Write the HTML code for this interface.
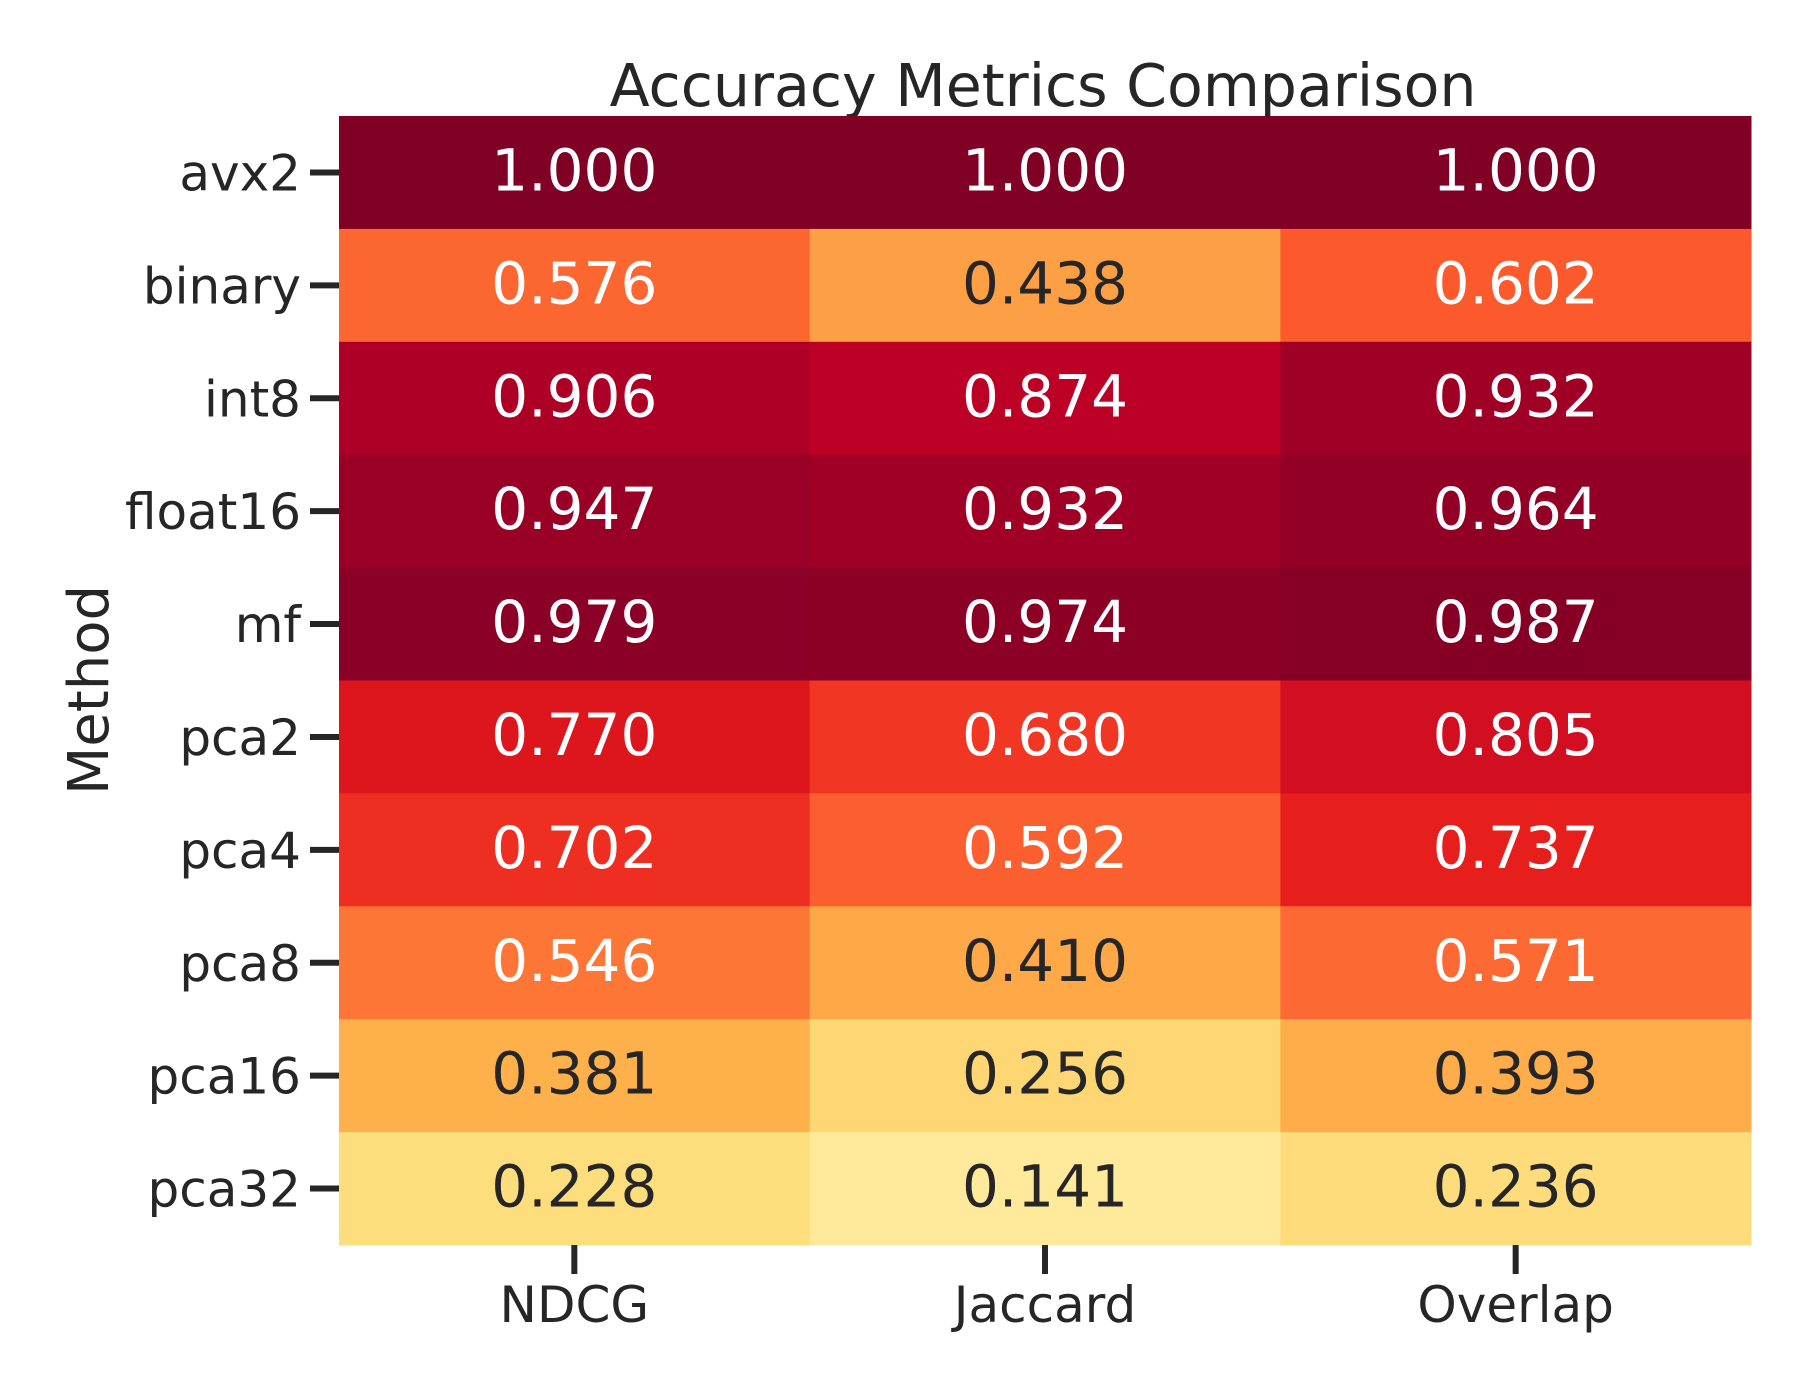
<!DOCTYPE html>
<html><head><meta charset="utf-8"><style>
html,body{margin:0;padding:0;background:#fff}
svg text{font-family:"DejaVu Sans","Liberation Sans",sans-serif;fill:#262626}
</style></head><body>
<svg id="chart" width="1810" height="1390" xmlns="http://www.w3.org/2000/svg">
<text x="1043" y="106" font-size="58.5" text-anchor="middle">Accuracy Metrics Comparison</text>
<text transform="translate(108,690) rotate(-90)" font-size="56" text-anchor="middle">Method</text>
<g id="cells"></g>
<g id="yticks"></g>
<g id="xticks"></g>
</svg>
<script>
const methods = ["avx2","binary","int8","float16","mf","pca2","pca4","pca8","pca16","pca32"];
const metrics = ["NDCG","Jaccard","Overlap"];
const ndcg = [1.000,0.576,0.906,0.947,0.979,0.770,0.702,0.546,0.381,0.228];
const jaccard = [1.000,0.438,0.874,0.932,0.974,0.680,0.592,0.410,0.256,0.141];
const overlap = [1.000,0.602,0.932,0.964,0.987,0.805,0.737,0.571,0.393,0.236];
const series = [ndcg, jaccard, overlap];

const NS = "http://www.w3.org/2000/svg";
const plotLeft = 339, plotRight = 1751, plotTop = 116, plotBottom = 1245;
const cw = (plotRight-plotLeft)/metrics.length, rh = (plotBottom-plotTop)/methods.length;
const xPos = i => plotLeft + i*cw;
const yPos = j => plotTop + j*rh;
const stops = ["#ffffcc","#ffeda0","#fed976","#feb24c","#fd8d3c","#fc4e2a","#e31a1c","#bd0026","#800026"];
function hex(h){return [1,3,5].map(k=>parseInt(h.substr(k,2),16));}
function color(v){
  const t = Math.max(0,Math.min(1,v))*(stops.length-1);
  const i = Math.min(stops.length-2, Math.floor(t)), f = t-i;
  const a = hex(stops[i]), b = hex(stops[i+1]);
  return "rgb("+a.map((x,k)=>Math.round(x+(b[k]-x)*f)).join(",")+")";
}
const cells = document.getElementById("cells");
series.forEach((vals, i) => {
  vals.forEach((v, j) => {
    const r = document.createElementNS(NS,"rect");
    
    
    r.setAttribute("x", xPos(i)); r.setAttribute("y", yPos(j));
    r.setAttribute("width", cw+0.5); r.setAttribute("height", rh+0.5);
    r.setAttribute("fill", color(v));
    cells.appendChild(r);
    const t = document.createElementNS(NS,"text");
    
    
    t.setAttribute("x", xPos(i)+cw/2); t.setAttribute("y", yPos(j)+rh/2+18);
    t.setAttribute("font-size", "58"); t.setAttribute("text-anchor", "middle");
    t.setAttribute("style", "fill:" + (v > 0.5 ? "#ffffff" : "#262626"));
    t.textContent = v.toFixed(3);
    cells.appendChild(t);
  });
});
const yt = document.getElementById("yticks");
methods.forEach((m, j) => {
  const cy = yPos(j)+rh/2;
  const l = document.createElementNS(NS,"line");
  
  
  l.setAttribute("x1", plotLeft-29); l.setAttribute("x2", plotLeft);
  l.setAttribute("y1", cy); l.setAttribute("y2", cy);
  l.setAttribute("stroke", "#262626"); l.setAttribute("stroke-width", "6");
  yt.appendChild(l);
  const t = document.createElementNS(NS,"text");
  
  
  t.setAttribute("x", plotLeft-38); t.setAttribute("y", cy+18);
  t.setAttribute("font-size", "50"); t.setAttribute("text-anchor", "end");
  t.textContent = m;
  yt.appendChild(t);
});
const xt = document.getElementById("xticks");
metrics.forEach((m, i) => {
  const cx = xPos(i)+cw/2;
  const l = document.createElementNS(NS,"line");
  
  
  l.setAttribute("x1", cx); l.setAttribute("x2", cx);
  l.setAttribute("y1", plotBottom); l.setAttribute("y2", plotBottom+29);
  l.setAttribute("stroke", "#262626"); l.setAttribute("stroke-width", "6");
  xt.appendChild(l);
  const t = document.createElementNS(NS,"text");
  
  
  t.setAttribute("x", cx); t.setAttribute("y", 1322);
  t.setAttribute("font-size", "50"); t.setAttribute("text-anchor", "middle");
  t.textContent = m;
  xt.appendChild(t);
});
</script>
</body></html>
